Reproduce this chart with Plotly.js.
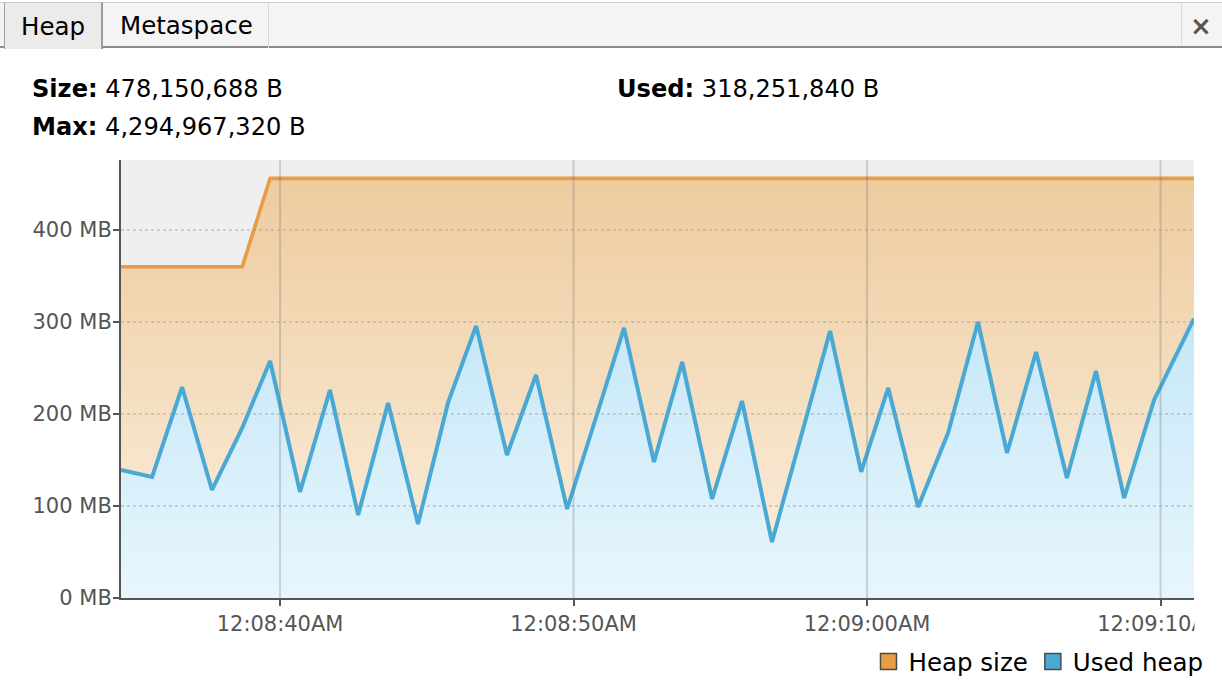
<!DOCTYPE html>
<html>
<head>
<meta charset="utf-8">
<script src="https://cdn.plot.ly/plotly-3.0.1.min.js"></script>
<style>
  html, body { margin: 0; padding: 0; background: #ffffff; }
  #wrap { position: relative; width: 1222px; height: 690px; overflow: hidden; font-family: "DejaVu Sans", sans-serif; }
  #chart { position: absolute; left: 0; top: 0; width: 1222px; height: 690px; }
  .tabbar { position: absolute; left: 0; top: 2px; width: 1222px; height: 46px; background: #f4f4f4; border-top: 1px solid #d0d0d0; border-bottom: 2px solid #8c8c8c; box-sizing: border-box; }
  .tab { position: absolute; top: 2px; height: 46px; box-sizing: border-box; font-size: 24.5px; color: #000; line-height: 48px; }
  .tab.sel { left: 4px; width: 99px; background: #ebebeb; border-left: 1px solid #a0a0a0; border-right: 2px solid #9a9a9a; border-top: 1px solid #c8c8c8; text-align: center; height: 47px; }
  .tab.other { left: 103px; width: 166px; border-right: 1px solid #d8d8d8; padding-left: 17px; }
  .closesep { position: absolute; left: 1181px; top: 2px; width: 1px; height: 44px; background: #dcdcdc; }
  .close { position: absolute; left: 1190px; top: 9px; font-size: 26px; font-weight: bold; color: #555; line-height: 34px; }
  .stat { position: absolute; font-size: 24.1px; color: #000; white-space: nowrap; line-height: 28px; }
  .stat b { font-weight: bold; }
</style>
</head>
<body>
<div id="wrap">
  <div id="chart"></div>
  <div class="tabbar"></div>
  <div class="tab sel">Heap</div>
  <div class="tab other">Metaspace</div>
  <div class="closesep"></div>
  <div class="close">×</div>
  <div class="stat" style="left:32px; top:75px;"><b>Size:</b> 478,150,688 B</div>
  <div class="stat" style="left:32px; top:113px;"><b>Max:</b> 4,294,967,320 B</div>
  <div class="stat" style="left:617px; top:75px;"><b>Used:</b> 318,251,840 B</div>
</div>
<script>
// ---- data (MB = MiB) ----
const dayPrefix = '2024-01-01 ';

const heapSizeTimes = ['00:08:34.58', '00:08:38.71', '00:08:39.66', '00:09:11.14'];
const heapSizeMB = [360, 360, 456, 456];

const usedHeapTimes = [
  '00:08:34.58','00:08:35.64','00:08:36.66','00:08:37.68','00:08:38.71','00:08:39.66',
  '00:08:40.68','00:08:41.70','00:08:42.66','00:08:43.68','00:08:44.70','00:08:45.72',
  '00:08:46.68','00:08:47.73','00:08:48.72','00:08:49.78','00:08:50.77','00:08:51.72',
  '00:08:52.74','00:08:53.70','00:08:54.72','00:08:55.74','00:08:56.76','00:08:57.79',
  '00:08:58.74','00:08:59.80','00:09:00.72','00:09:01.74','00:09:02.76','00:09:03.78',
  '00:09:04.77','00:09:05.76','00:09:06.81','00:09:07.80','00:09:08.76','00:09:09.78',
  '00:09:11.14'
];
const usedHeapMB = [
  139.1, 131.5, 229.3, 117.4, 184.8, 257.6,
  115.2, 226.1, 90.2, 212.0, 80.4, 212.0,
  295.7, 155.4, 242.4, 96.7, 196.7, 293.5,
  147.8, 256.5, 107.6, 214.1, 60.9, 179.3,
  290.2, 137.0, 228.3, 98.9, 179.3, 300.0,
  157.6, 267.4, 130.4, 246.7, 108.7, 215.2,
  303.5
];

const xRange = ['00:08:34.58', '00:09:11.14'];
const yRangeMB = [0, 476];

const xTickTimes = ['00:08:40', '00:08:50', '00:09:00', '00:09:10'];
const xTickLabels = ['12:08:40AM', '12:08:50AM', '12:09:00AM', '12:09:10AM'];
const yTickValues = [0, 100, 200, 300, 400];
const yTickLabels = ['0 MB', '100 MB', '200 MB', '300 MB', '400 MB'];

const seriesNames = ['Heap size', 'Used heap'];

// ---- styles ----
const orange = '#e69d43';
const blue = '#4aa8d5';
const toDate = t => dayPrefix + t;

const traces = [
  {
    type: 'scatter', mode: 'lines', name: seriesNames[0], showlegend: false,
    x: heapSizeTimes.map(toDate), y: heapSizeMB,
    line: { color: orange, width: 3.6 },
    fill: 'tozeroy',
    fillgradient: { type: 'vertical', start: yRangeMB[0], stop: yRangeMB[1],
      colorscale: [[0, '#fbf0e1'], [1, '#edca9b']] },
    hoverinfo: 'skip'
  },
  {
    type: 'scatter', mode: 'lines', name: seriesNames[1], showlegend: false,
    x: usedHeapTimes.map(toDate), y: usedHeapMB,
    line: { color: blue, width: 4 },
    fill: 'tozeroy',
    fillgradient: { type: 'vertical', start: yRangeMB[0], stop: yRangeMB[1],
      colorscale: [[0, '#e7f6fd'], [1, '#b3dff5']] },
    hoverinfo: 'skip'
  },
  {
    type: 'scatter', mode: 'markers', name: seriesNames[0], x: [null], y: [null],
    marker: { symbol: 'square', size: 16, color: orange, line: { color: '#4a4a4a', width: 1.5 } }
  },
  {
    type: 'scatter', mode: 'markers', name: seriesNames[1], x: [null], y: [null],
    marker: { symbol: 'square', size: 16, color: blue, line: { color: '#4a4a4a', width: 1.5 } }
  }
];

const shapes = [];
xTickTimes.forEach(t => shapes.push({
  type: 'line', xref: 'x', yref: 'paper', x0: toDate(t), x1: toDate(t), y0: 0, y1: 1,
  line: { color: 'rgba(110,110,110,0.28)', width: 2 }, layer: 'above'
}));
yTickValues.filter(v => v > 0).forEach(v => shapes.push({
  type: 'line', xref: 'paper', yref: 'y', x0: 0, x1: 1, y0: v, y1: v,
  line: { color: 'rgba(150,150,150,0.5)', width: 1.5, dash: 'dot' }, layer: 'above'
}));
// the chart panel clips the last time label at its right edge
shapes.push({
  type: 'rect', xref: 'paper', yref: 'paper', x0: 1.0005, x1: 1.04, y0: -0.005, y1: -0.12,
  fillcolor: '#ffffff', line: { width: 0 }, layer: 'above'
});

const layout = {
  width: 1222, height: 690,
  margin: { l: 121, r: 28, t: 160, b: 92, autoexpand: false },
  paper_bgcolor: 'rgba(0,0,0,0)',
  plot_bgcolor: '#efefef',
  font: { family: 'DejaVu Sans, sans-serif', size: 21, color: '#555555' },
  xaxis: {
    type: 'date',
    range: xRange.map(toDate),
    tickmode: 'array', tickvals: xTickTimes.map(toDate), ticktext: xTickLabels,
    showgrid: false, zeroline: false,
    showline: true, linecolor: '#555555', linewidth: 2,
    ticks: 'outside', ticklen: 6, tickwidth: 2, tickcolor: '#555555',
    tickfont: { family: 'DejaVu Sans, sans-serif', size: 21, color: '#555555' },
    ticklabeloverflow: 'allow',
    automargin: false,
    fixedrange: true
  },
  yaxis: {
    range: yRangeMB,
    tickmode: 'array', tickvals: yTickValues, ticktext: yTickLabels,
    showgrid: false, zeroline: false,
    showline: true, linecolor: '#555555', linewidth: 2,
    ticks: 'outside', ticklen: 6, tickwidth: 2, tickcolor: '#555555',
    ticklabelstandoff: -3,
    tickfont: { family: 'DejaVu Sans, sans-serif', size: 21, color: '#555555' },
    automargin: false,
    fixedrange: true
  },
  showlegend: true,
  legend: {
    orientation: 'h', x: 1.0135, xanchor: 'right', y: -0.145, yanchor: 'middle',
    bgcolor: 'rgba(0,0,0,0)', font: { family: 'DejaVu Sans, sans-serif', size: 24.5, color: '#000000' },
    itemclick: false, itemdoubleclick: false
  },
  shapes: shapes
};

Plotly.newPlot('chart', traces, layout, { displayModeBar: false, staticPlot: true });
</script>
</body>
</html>
